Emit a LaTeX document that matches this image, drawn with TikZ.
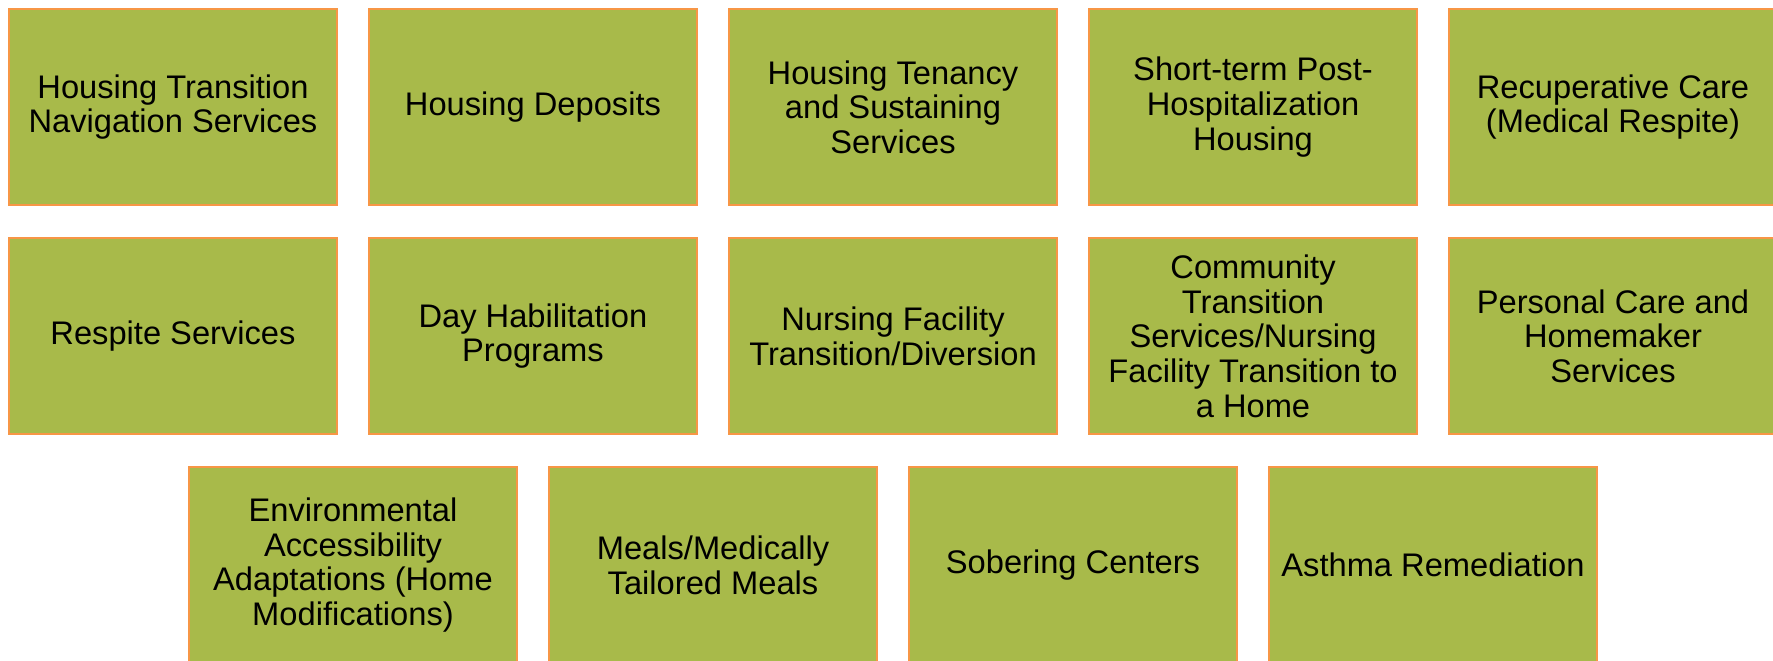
\documentclass[tikz,border=0pt]{standalone}
\usepackage{fontspec}
\setmainfont{Liberation Sans}
\definecolor{boxgreen}{RGB}{168,186,74}
\definecolor{boxorange}{RGB}{247,150,70}

\begin{document}
\begin{tikzpicture}[x=0.75pt,y=-0.75pt]
\tikzset{service/.style = {rectangle,draw=boxorange,fill=boxgreen,line width=0.9pt,
	minimum width=246pt,minimum height=147pt,inner sep=0pt,
	align=center,font=\fontsize{24.5}{26}\selectfont}}
\useasboundingbox (0,0) rectangle (1773,660);
\clip (0,0) rectangle (1773,660);
% first row
\node[service] (htn) at (173,107) {Housing Transition\\Navigation Services};
\node[service] (hd)  at (533,107) {Housing Deposits};
\node[service] (hts) at (893,107) {Housing Tenancy\\and Sustaining\\Services};
\node[service] (sph) at (1253,107) {Short-term Post-\\Hospitalization\\Housing};
\node[service] (rc)  at (1613,107) {Recuperative Care\\(Medical Respite)};
% second row
\node[service] (rs)  at (173,336) {Respite Services};
\node[service] (dhp) at (533,336) {Day Habilitation\\Programs};
\node[service] (nft) at (893,336) {Nursing Facility\\Transition/Diversion};
\node[service] (cts) at (1253,336) {Community\\Transition\\Services/Nursing\\Facility Transition to\\a Home};
\node[service] (pch) at (1613,336) {Personal Care and\\Homemaker\\Services};
% third row
\node[service] (eaa) at (353,565) {Environmental\\Accessibility\\Adaptations (Home\\Modifications)};
\node[service] (mtm) at (713,565) {Meals/Medically\\Tailored Meals};
\node[service] (sc)  at (1073,565) {Sobering Centers};
\node[service] (ar)  at (1433,565) {Asthma Remediation};
\end{tikzpicture}
\end{document}
